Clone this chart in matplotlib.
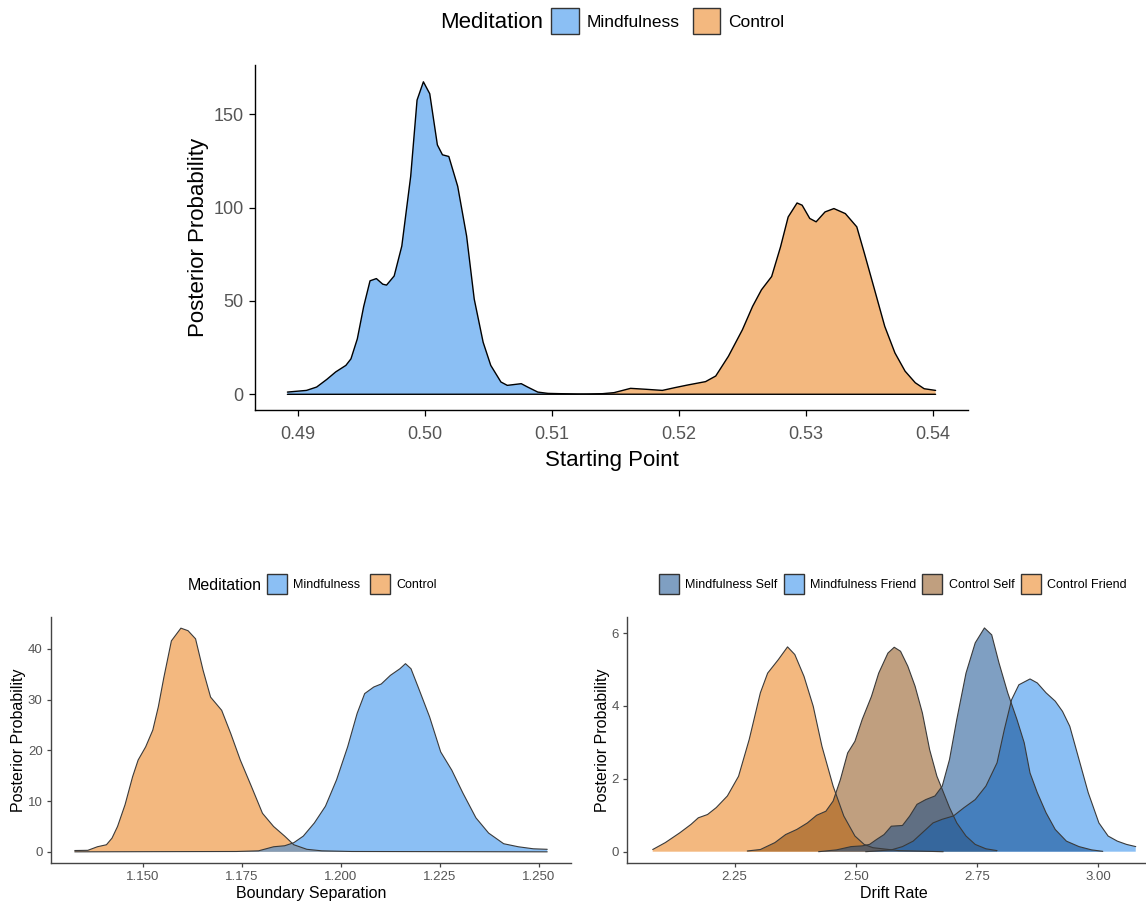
import matplotlib.pyplot as plt
from matplotlib.colors import to_rgba
from matplotlib.patches import Patch

plt.rcParams['font.family'] = ['Liberation Sans', 'DejaVu Sans']

# ---- data ----
# Starting point
sp_mind_x = [0.4892, 0.4907, 0.4915, 0.4923, 0.4930, 0.4938, 0.4942, 0.4947, 0.4952,
             0.4957, 0.4962, 0.4967, 0.4970, 0.4976, 0.4982, 0.4989, 0.4994, 0.4999,
             0.5004, 0.5010, 0.5014, 0.5019, 0.5026, 0.5033, 0.5039, 0.5046, 0.5052,
             0.5060, 0.5065, 0.5076, 0.5081, 0.5089, 0.5097, 0.5106, 0.5130, 0.5402]
sp_mind_y = [1.2, 2.1, 3.9, 8.0, 12.0, 15.5, 19.0, 29.7, 47.0,
             60.8, 62.0, 59.0, 58.5, 63.4, 79.4, 116.8, 157.6, 167.4,
             161.0, 133.6, 128.3, 127.4, 111.4, 84.8, 51.0, 27.9, 15.5,
             6.6, 4.8, 5.7, 3.9, 1.2, 0.5, 0.35, 0.05, 0.0]
sp_ctrl_x = [0.4892, 0.5120, 0.5140, 0.5149, 0.5162, 0.5174, 0.5187, 0.5197, 0.5207,
             0.5221, 0.5229, 0.5239, 0.5250, 0.5258, 0.5265, 0.5273, 0.5280, 0.5286,
             0.5293, 0.5297, 0.5303, 0.5308, 0.5315, 0.5322, 0.5331, 0.5340, 0.5346,
             0.5354, 0.5362, 0.5370, 0.5378, 0.5386, 0.5393, 0.5402]
sp_ctrl_y = [0.0, 0.05, 0.35, 0.9, 3.2, 2.7, 2.1, 3.6, 5.0,
             6.8, 9.8, 20.4, 34.6, 47.1, 56.0, 63.1, 79.0, 95.0,
             102.5, 101.3, 94.2, 92.4, 97.7, 99.5, 96.8, 89.7, 75.5,
             56.0, 36.4, 22.2, 12.4, 6.2, 3.0, 2.1]

# Boundary separation
bs_ctrl_x = [1.1328, 1.1361, 1.1385, 1.1408, 1.1422, 1.1436, 1.1455, 1.1474, 1.1488,
             1.1507, 1.1525, 1.1539, 1.1553, 1.1572, 1.1596, 1.1614, 1.1633, 1.1652,
             1.1671, 1.1699, 1.1722, 1.1746, 1.1774, 1.1802, 1.1830, 1.1858, 1.1881,
             1.1914, 1.1952, 1.2027, 1.2521]
bs_ctrl_y = [0.26, 0.3, 1.0, 1.4, 2.7, 5.0, 9.3, 14.8, 18.1,
             20.7, 24.0, 28.6, 34.4, 41.6, 44.1, 43.6, 42.0, 35.8,
             30.5, 27.9, 23.3, 18.1, 12.9, 7.6, 5.0, 3.1, 1.4,
             0.5, 0.2, 0.07, 0.0]
bs_mind_x = [1.1328, 1.1736, 1.1792, 1.1830, 1.1858, 1.1881, 1.1905, 1.1933, 1.1961,
             1.1989, 1.2017, 1.2041, 1.2060, 1.2083, 1.2102, 1.2125, 1.2149, 1.2163,
             1.2177, 1.2195, 1.2224, 1.2252, 1.2280, 1.2308, 1.2341, 1.2373, 1.2411,
             1.2448, 1.2486, 1.2521]
bs_mind_y = [0.0, 0.07, 0.2, 1.0, 1.2, 1.8, 3.1, 5.7, 9.0,
             14.2, 20.7, 27.3, 31.2, 32.5, 33.1, 34.8, 36.1, 37.1,
             36.1, 32.5, 26.6, 19.7, 16.1, 11.6, 6.7, 3.7, 1.6,
             1.0, 0.6, 0.5]

# Drift rate
dr_cf_x = [2.081, 2.107, 2.137, 2.160, 2.175, 2.194, 2.212, 2.235, 2.258, 2.280,
           2.303, 2.318, 2.340, 2.359, 2.374, 2.393, 2.412, 2.430, 2.453, 2.475,
           2.498, 2.517, 2.535, 2.588, 2.680]
dr_cf_y = [0.06, 0.25, 0.52, 0.75, 0.93, 1.02, 1.21, 1.53, 2.07, 3.08,
           4.36, 4.90, 5.27, 5.62, 5.41, 4.81, 3.99, 2.89, 1.80, 0.98,
           0.43, 0.20, 0.11, 0.03, 0.0]
dr_cs_x = [2.276, 2.303, 2.333, 2.355, 2.378, 2.400, 2.419, 2.438, 2.453, 2.468,
           2.483, 2.498, 2.513, 2.532, 2.547, 2.566, 2.579, 2.592, 2.607, 2.622,
           2.637, 2.652, 2.667, 2.678, 2.693, 2.708, 2.727, 2.746, 2.768, 2.791]
dr_cs_y = [0.02, 0.06, 0.25, 0.47, 0.61, 0.79, 1.0, 1.11, 1.39, 1.98,
           2.71, 3.03, 3.63, 4.26, 4.90, 5.45, 5.61, 5.50, 5.09, 4.54,
           3.81, 2.80, 2.07, 1.71, 1.21, 0.79, 0.43, 0.20, 0.08, 0.03]
dr_ms_x = [2.423, 2.460, 2.490, 2.513, 2.528, 2.543, 2.558, 2.573, 2.596, 2.611,
           2.626, 2.644, 2.663, 2.678, 2.693, 2.708, 2.727, 2.746, 2.765, 2.780,
           2.795, 2.813, 2.832, 2.847, 2.859, 2.874, 2.892, 2.911, 2.934, 2.960,
           2.986, 3.009]
dr_ms_y = [0.0, 0.05, 0.14, 0.16, 0.2, 0.34, 0.47, 0.70, 0.72, 0.98,
           1.30, 1.43, 1.53, 1.80, 2.53, 3.63, 4.90, 5.73, 6.14, 5.95,
           5.18, 4.36, 3.63, 2.99, 2.16, 1.62, 1.07, 0.61, 0.29, 0.14,
           0.05, 0.01]
dr_mf_x = [2.520, 2.573, 2.596, 2.618, 2.641, 2.659, 2.678, 2.701, 2.723, 2.746,
           2.768, 2.791, 2.806, 2.821, 2.836, 2.859, 2.874, 2.892, 2.911, 2.926,
           2.941, 2.960, 2.979, 3.001, 3.020, 3.039, 3.058, 3.077]
dr_mf_y = [0.0, 0.05, 0.14, 0.29, 0.57, 0.79, 0.89, 0.98, 1.21, 1.43,
           1.80, 2.44, 3.35, 4.17, 4.58, 4.74, 4.63, 4.36, 4.13, 3.85,
           3.44, 2.53, 1.62, 0.79, 0.43, 0.29, 0.2, 0.14]

groups2 = ['Mindfulness', 'Control']
groups4 = ['Mindfulness Self', 'Mindfulness Friend', 'Control Self', 'Control Friend']
base_colors = {'Mindfulness': '#1981EB', 'Control': '#E97300',
               'Mindfulness Self': '#014187', 'Mindfulness Friend': '#1981EB',
               'Control Self': '#834100', 'Control Friend': '#E97300'}

W, H = 1146, 906


def box(l, t, r, b):
    return [l / W, 1 - b / H, (r - l) / W, (b - t) / H]


def density(ax, x, y, name, edge, lw):
    ax.fill_between(x, 0, y, facecolor=to_rgba(base_colors[name], 0.5), lw=0)
    ax.plot(x, y, color=edge, lw=lw, solid_joinstyle='round', solid_capstyle='round')


def style(ax, tick_size, edge, tick_pad, tick_len=3):
    for s in ['top', 'right']:
        ax.spines[s].set_visible(False)
    for s in ['left', 'bottom']:
        ax.spines[s].set_color(edge)
        ax.spines[s].set_linewidth(1.0)
    ax.tick_params(length=tick_len, width=0.9, color=edge, labelcolor='#555555',
                   labelsize=tick_size, pad=tick_pad)


def legend_handles(names):
    return [Patch(facecolor=to_rgba(base_colors[n], 0.5), edgecolor='#333333', lw=1.0)
            for n in names]


fig = plt.figure(figsize=(W / 100, H / 100), dpi=100)

# ---- top: starting point ----
ax1 = fig.add_axes(box(255, 65, 968, 410))
density(ax1, sp_mind_x, sp_mind_y, 'Mindfulness', 'black', 1.0)
density(ax1, sp_ctrl_x, sp_ctrl_y, 'Control', 'black', 1.0)
ax1.set_xlim(0.48665, 0.54275)
ax1.set_ylim(-8.4, 176.4)
ax1.set_xticks([0.49, 0.50, 0.51, 0.52, 0.53, 0.54])
ax1.set_xticklabels(['0.49', '0.50', '0.51', '0.52', '0.53', '0.54'])
ax1.set_yticks([0, 50, 100, 150])
style(ax1, 13, 'black', 4.3, tick_len=4)
ax1.tick_params(axis='x', pad=7.5)
ax1.set_xlabel('Starting Point', fontsize=16, labelpad=5)
ax1.set_ylabel('Posterior Probability', fontsize=16, labelpad=3)

fig.text(440 / W, 1 - 23 / H, 'Meditation', fontsize=16, va='center', ha='left')
fig.legend(legend_handles(groups2), groups2, loc='center left',
           bbox_to_anchor=(551 / W, 1 - 21 / H), ncol=2, frameon=False,
           fontsize=12.5, handlelength=1.6, handleheight=2.0, handletextpad=0.45,
           columnspacing=0.75, borderpad=0, borderaxespad=0)

# ---- bottom left: boundary separation ----
ax2 = fig.add_axes(box(51, 617, 571, 863))
density(ax2, bs_ctrl_x, bs_ctrl_y, 'Control', '#3a3a3a', 0.8)
density(ax2, bs_mind_x, bs_mind_y, 'Mindfulness', '#3a3a3a', 0.8)
ax2.set_xlim(1.1268, 1.2581)
ax2.set_ylim(-2.2, 46.3)
ax2.set_xticks([1.150, 1.175, 1.200, 1.225, 1.250])
ax2.set_xticklabels(['1.150', '1.175', '1.200', '1.225', '1.250'])
ax2.set_yticks([0, 10, 20, 30, 40])
style(ax2, 9.5, '#444444', 3)
ax2.set_xlabel('Boundary Separation', fontsize=11.5, labelpad=2)
ax2.set_ylabel('Posterior Probability', fontsize=11.5, labelpad=1)

fig.text(188 / W, 1 - 585 / H, 'Meditation', fontsize=11.5, va='center', ha='left')
fig.legend(legend_handles(groups2), groups2, loc='center left',
           bbox_to_anchor=(267 / W, 1 - 584 / H), ncol=2, frameon=False,
           fontsize=9, handlelength=1.6, handleheight=2.0, handletextpad=0.5,
           columnspacing=0.8, borderpad=0, borderaxespad=0)

# ---- bottom right: drift rate ----
ax3 = fig.add_axes(box(627, 617, 1160, 863))
density(ax3, dr_cf_x, dr_cf_y, 'Control Friend', '#3a3a3a', 0.8)
density(ax3, dr_cs_x, dr_cs_y, 'Control Self', '#3a3a3a', 0.8)
density(ax3, dr_mf_x, dr_mf_y, 'Mindfulness Friend', '#3a3a3a', 0.8)
density(ax3, dr_ms_x, dr_ms_y, 'Mindfulness Self', '#3a3a3a', 0.8)
ax3.set_xlim(2.028, 3.127)
ax3.set_ylim(-0.31, 6.44)
ax3.set_xticks([2.25, 2.50, 2.75, 3.00])
ax3.set_xticklabels(['2.25', '2.50', '2.75', '3.00'])
ax3.set_yticks([0, 2, 4, 6])
style(ax3, 9.5, '#444444', 3)
ax3.set_xlabel('Drift Rate', fontsize=11.5, labelpad=2)
ax3.set_ylabel('Posterior Probability', fontsize=11.5, labelpad=1)

fig.legend(legend_handles(groups4), groups4, loc='center left',
           bbox_to_anchor=(659 / W, 1 - 584 / H), ncol=4, frameon=False,
           fontsize=9, handlelength=1.6, handleheight=2.0, handletextpad=0.5,
           columnspacing=0.5, borderpad=0, borderaxespad=0)

fig.savefig('out.png', dpi=100, facecolor='white')
